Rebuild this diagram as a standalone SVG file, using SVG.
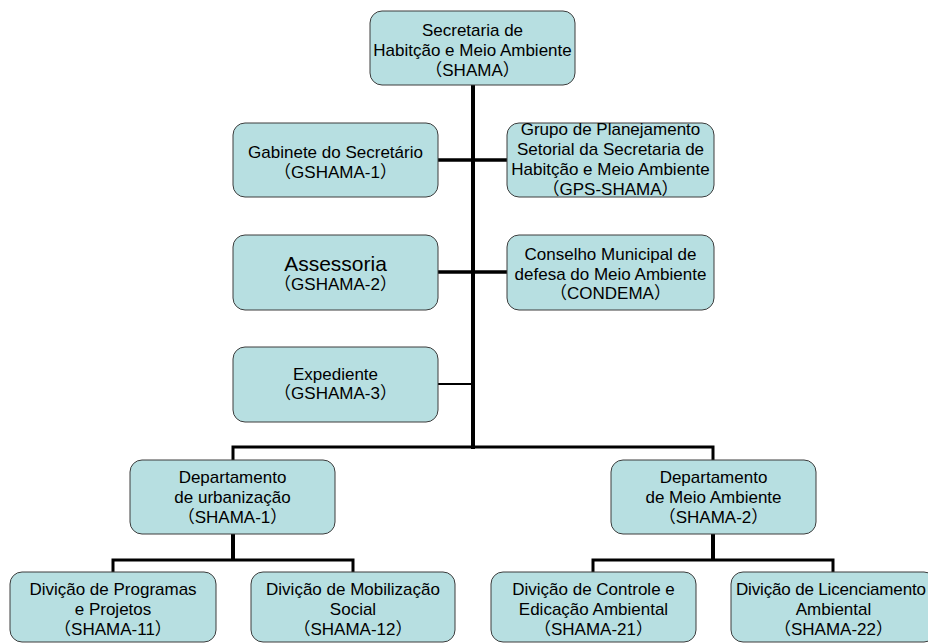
<svg xmlns="http://www.w3.org/2000/svg" width="928" height="643" viewBox="0 0 928 643">
  <style>
    .box { fill: #B7DFE1; stroke: #3c3c3c; stroke-width: 1; }
    .t { font-family: "Liberation Sans", Arial, "Noto Sans CJK JP", sans-serif; font-size: 17px; fill: #000; text-anchor: middle; font-feature-settings: "halt"; }
    .big { font-size: 21px; }
    .wire { stroke: #000; fill: none; stroke-linecap: butt; }
  </style>

  <rect width="928" height="643" fill="#fff"/>

  <!-- connectors -->
  <g id="connectors">
    <line class="wire" x1="473" y1="85" x2="473" y2="449" stroke-width="4"/>
    <line class="wire" x1="438" y1="160" x2="507" y2="160" stroke-width="3.5"/>
    <line class="wire" x1="438" y1="272" x2="507" y2="272" stroke-width="3.5"/>
    <line class="wire" x1="438" y1="384" x2="473" y2="384" stroke-width="2"/>
    <polyline class="wire" points="233,460 233,447 713,447 713,460" stroke-width="3"/>
    <line class="wire" x1="233" y1="534" x2="233" y2="560" stroke-width="4"/>
    <polyline class="wire" points="113,572 113,560 353,560 353,572" stroke-width="3"/>
    <line class="wire" x1="713" y1="534" x2="713" y2="560" stroke-width="4"/>
    <polyline class="wire" points="593,572 593,560 833,560 833,572" stroke-width="3"/>
  </g>

  <g id="shama">
    <rect class="box" x="370" y="11" width="205" height="74" rx="12"/>
    <text class="t" x="472.5" y="36">Secretaria de</text>
    <text class="t" x="472.5" y="56">Habitção e Meio Ambiente</text>
    <text class="t" x="472.5" y="76">（SHAMA）</text>
  </g>

  <g id="gshama-1">
    <rect class="box" x="233" y="123" width="205" height="74" rx="12"/>
    <text class="t" x="335.5" y="158">Gabinete do Secretário</text>
    <text class="t" x="335.5" y="178">（GSHAMA-1）</text>
  </g>

  <g id="gps-shama">
    <rect class="box" x="507" y="123" width="207" height="74" rx="12"/>
    <text class="t" x="610.5" y="134.5">Grupo de Planejamento</text>
    <text class="t" x="610.5" y="154.8">Setorial da Secretaria de</text>
    <text class="t" x="610.5" y="175.1">Habitção e Meio Ambiente</text>
    <text class="t" x="610.5" y="195.4">（GPS-SHAMA）</text>
  </g>

  <g id="gshama-2">
    <rect class="box" x="233" y="235" width="205" height="75" rx="12"/>
    <text class="t big" x="335.5" y="271">Assessoria</text>
    <text class="t" x="335.5" y="290">（GSHAMA-2）</text>
  </g>

  <g id="condema">
    <rect class="box" x="507" y="235" width="207" height="75" rx="12"/>
    <text class="t" x="610.5" y="260">Conselho Municipal de</text>
    <text class="t" x="610.5" y="280">defesa do Meio Ambiente</text>
    <text class="t" x="610.5" y="299">（CONDEMA）</text>
  </g>

  <g id="gshama-3">
    <rect class="box" x="233" y="347" width="205" height="75" rx="12"/>
    <text class="t" x="335.5" y="380">Expediente</text>
    <text class="t" x="335.5" y="399">（GSHAMA-3）</text>
  </g>

  <g id="shama-1">
    <rect class="box" x="130" y="460" width="205" height="74" rx="12"/>
    <text class="t" x="232.5" y="483">Departamento</text>
    <text class="t" x="232.5" y="503">de urbanização</text>
    <text class="t" x="232.5" y="523">（SHAMA-1）</text>
  </g>

  <g id="shama-2">
    <rect class="box" x="611" y="460" width="205" height="74" rx="12"/>
    <text class="t" x="713.5" y="483">Departamento</text>
    <text class="t" x="713.5" y="503">de Meio Ambiente</text>
    <text class="t" x="713.5" y="523">（SHAMA-2）</text>
  </g>

  <g id="shama-11">
    <rect class="box" x="10" y="572" width="206" height="70" rx="12"/>
    <text class="t" x="113" y="595">Divição de Programas</text>
    <text class="t" x="113" y="615">e Projetos</text>
    <text class="t" x="113" y="635">（SHAMA-11）</text>
  </g>

  <g id="shama-12">
    <rect class="box" x="251" y="572" width="204" height="70" rx="12"/>
    <text class="t" x="353" y="595">Divição de Mobilização</text>
    <text class="t" x="353" y="615">Social</text>
    <text class="t" x="353" y="635">（SHAMA-12）</text>
  </g>

  <g id="shama-21">
    <rect class="box" x="491" y="572" width="205" height="70" rx="12"/>
    <text class="t" x="593.5" y="595">Divição de Controle e</text>
    <text class="t" x="593.5" y="615">Edicação Ambiental</text>
    <text class="t" x="593.5" y="635">（SHAMA-21）</text>
  </g>

  <g id="shama-22">
    <rect class="box" x="731" y="572" width="205" height="70" rx="12"/>
    <text class="t" x="831" y="595" textLength="190">Divição de Licenciamento</text>
    <text class="t" x="833.5" y="615">Ambiental</text>
    <text class="t" x="833.5" y="635">（SHAMA-22）</text>
  </g>
</svg>
